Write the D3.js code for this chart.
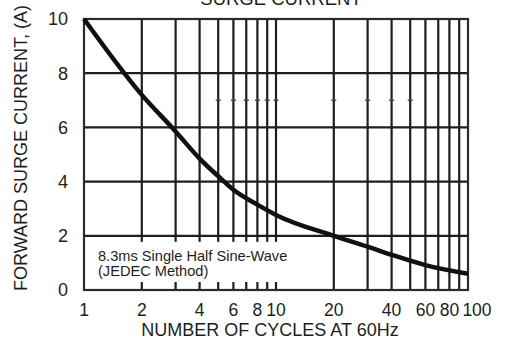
<!DOCTYPE html>
<html><head><meta charset="utf-8">
<script src="https://cdn.jsdelivr.net/npm/d3@7"></script>
<style>html,body{margin:0;padding:0;background:#fff;}svg{display:block;font-family:"Liberation Sans",Arial,sans-serif;}</style>
</head><body>
<svg id="c" width="508" height="341"></svg>
<script>
const cycles = [1, 2, 3, 4, 5, 6, 8, 10, 20, 30, 40, 60, 100];
const current = [10, 7.2, 5.85, 4.85, 4.2, 3.7, 3.15, 2.77, 2.0, 1.6, 1.3, 0.92, 0.6];
const xGrid = [2,3,4,5,6,7,8,9,10,20,30,40,50,60,70,80,90];
const xMarks = [5,6,7,8,9,10,20,30,40,50];
const yGrid = [2,4,6,8];
const xTickLabels = [1,2,4,6,8,10,20,40,60,80,100];
const yTickLabels = [0,2,4,6,8,10];
const title = "SURGE CURRENT";
const xTitle = "NUMBER OF CYCLES AT 60Hz";
const yTitle = "FORWARD SURGE CURRENT, (A)";
const noteLines = ["8.3ms Single Half Sine-Wave", "(JEDEC Method)"];

const L = 84, R = 468, T = 19, B = 290;
const svg = d3.select("#c");
const x = d3.scaleLog().domain([1, 100]).range([L, R]);
const y = d3.scaleLinear().domain([0, 10]).range([B, T]);
const ink = "#1e1e1e";

// grid
svg.append("g").selectAll("line").data(xGrid).join("line")
  .attr("x1", d => x(d)).attr("x2", d => x(d)).attr("y1", T).attr("y2", B)
  .attr("stroke", ink).attr("stroke-width", 2.2);
svg.append("g").selectAll("line").data(yGrid).join("line")
  .attr("x1", L).attr("x2", R).attr("y1", d => y(d)).attr("y2", d => y(d))
  .attr("stroke", ink).attr("stroke-width", 2.2);
svg.append("g").selectAll("line").data(xMarks).join("line")
  .attr("x1", d => x(d) - 2.5).attr("x2", d => x(d) + 2.5).attr("y1", y(7)).attr("y2", y(7))
  .attr("stroke", "#444").attr("stroke-width", 1.5);

// note box (covers gridlines)
svg.append("rect").attr("x", L + 1).attr("y", y(2) + 6).attr("width", x(10) - L + 14).attr("height", B - y(2) - 14).attr("fill", "#fff");

// frame
svg.append("rect").attr("x", L).attr("y", T).attr("width", R - L).attr("height", B - T)
  .attr("fill", "none").attr("stroke", "#2b2b2b").attr("stroke-width", 2.2);

// curve
const line = d3.line().x((d, i) => x(cycles[i])).y(d => y(d)).curve(d3.curveMonotoneX);
svg.append("path").attr("d", line(current)).attr("fill", "none").attr("stroke", "#111").attr("stroke-width", 4.5).attr("stroke-linecap", "butt");

// axes labels
svg.append("g").selectAll("text").data(xTickLabels).join("text")
  .attr("x", d => x(d) + (d === 100 ? 9 : 0)).attr("y", 316)
  .attr("text-anchor", "middle").attr("font-size", 17.5).attr("fill", ink).text(d => d);
svg.append("g").selectAll("text").data(yTickLabels).join("text")
  .attr("x", 68).attr("y", d => y(d)).attr("dy", "0.36em")
  .attr("text-anchor", "end").attr("font-size", 18).attr("fill", ink).text(d => d);

svg.append("text").attr("x", 270).attr("y", 336).attr("text-anchor", "middle")
  .attr("font-size", 18).attr("fill", ink).text(xTitle);
svg.append("text").attr("transform", "translate(27,148) rotate(-90)").attr("text-anchor", "middle")
  .attr("font-size", 18).attr("fill", ink).text(yTitle);
svg.append("text").attr("x", 281).attr("y", 5).attr("text-anchor", "middle")
  .attr("font-size", 18.5).attr("fill", ink).text(title);

svg.append("g").selectAll("text").data(noteLines).join("text")
  .attr("x", 98).attr("y", (d, i) => 261 + i * 15)
  .attr("font-size", 14.6).attr("fill", ink).text(d => d);
</script>
</body></html>
